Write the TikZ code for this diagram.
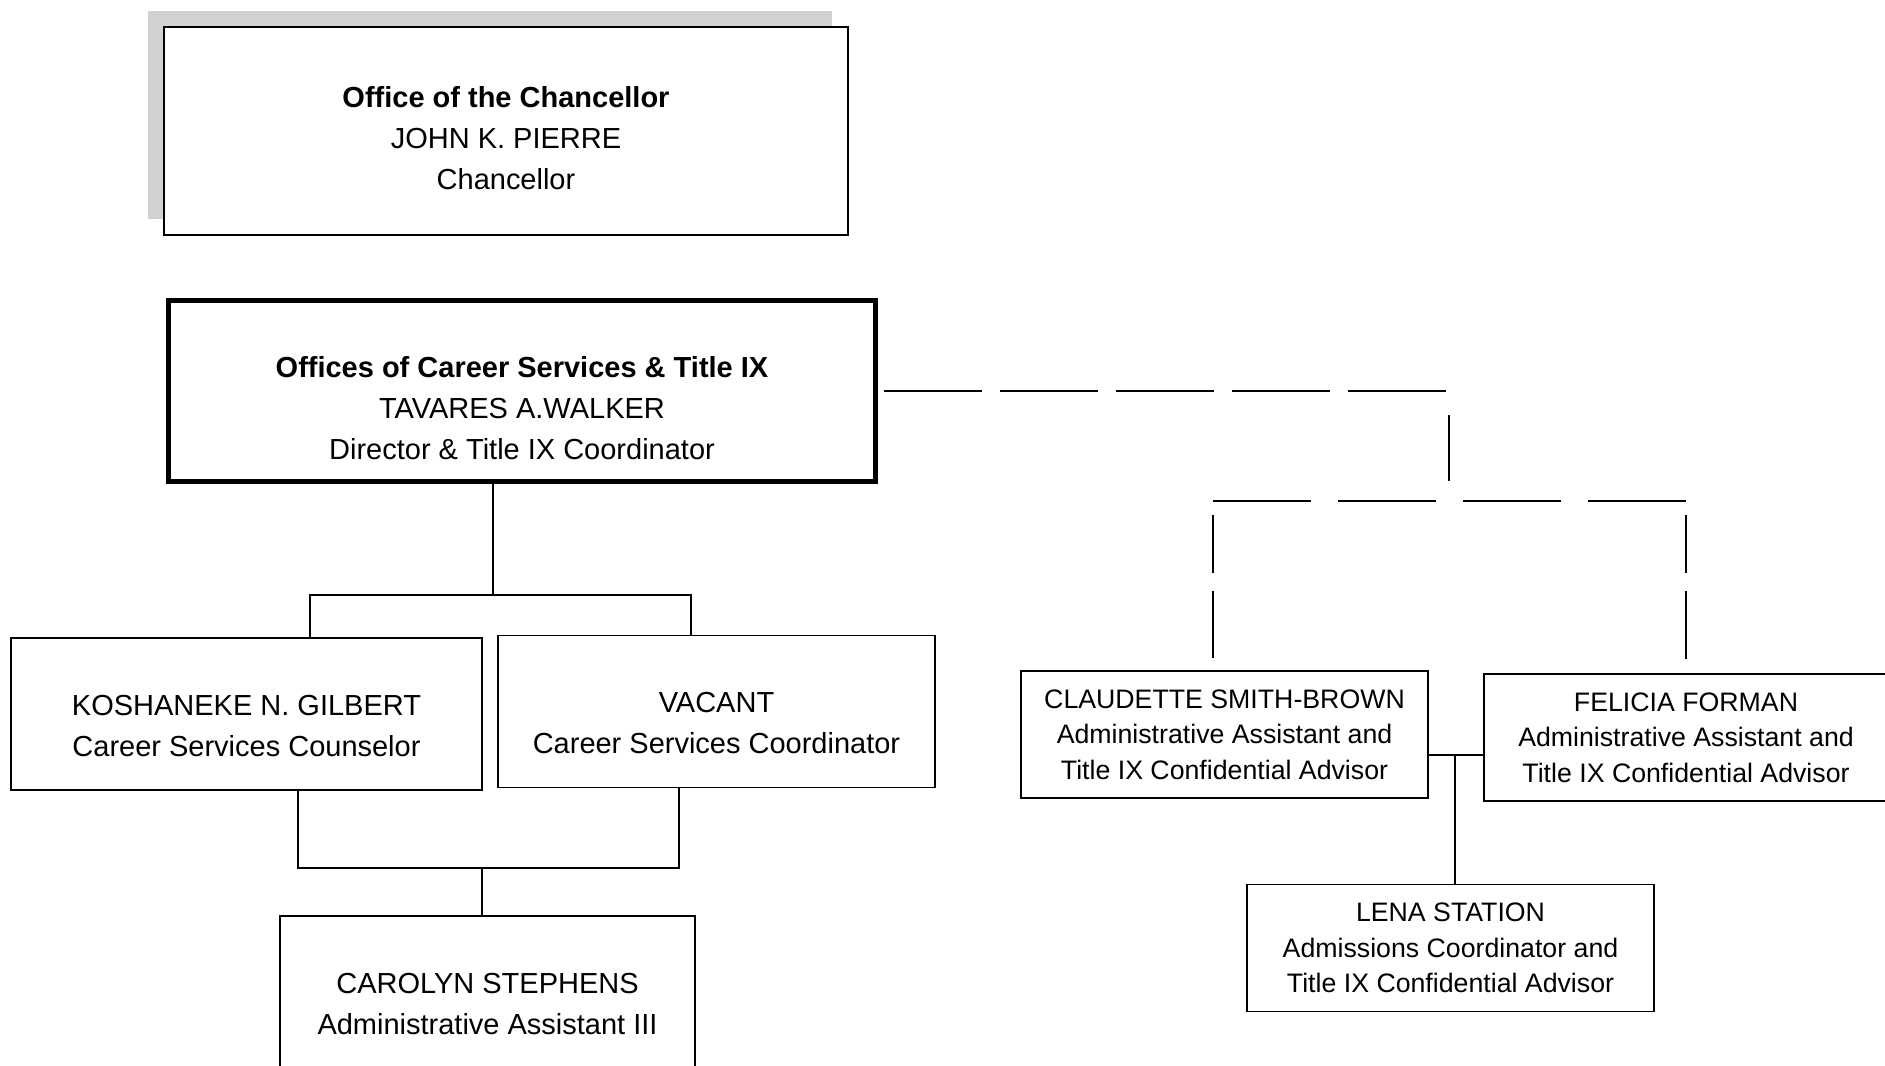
\documentclass[tikz,border=0pt]{standalone}
\usepackage{fontspec}
\setmainfont{Liberation Sans}
\usetikzlibrary{shadows}

\begin{document}
\begin{tikzpicture}

  \tikzstyle{box} = [rectangle, draw=black, fill=white, line width=1pt, align=center, font=\fontsize{16.5}{23.3}\selectfont]
  \tikzstyle{staff} = [box, minimum height=3.04cm]
  \tikzstyle{side} = [box, minimum width=8.14cm, minimum height=2.54cm, font=\fontsize{15.2}{20.3}\selectfont]

  \tikzstyle{line} = [line width=0.8pt]
  \tikzstyle{dashline} = [line width=0.8pt, dash pattern=on 55.8pt off 10.2pt]

  \useasboundingbox (0,0) rectangle (37.7,-21.3);

  \node (chancellor) [box, line width=1.6pt, minimum width=13.68cm, minimum height=4.16cm, xshift=10.12cm, yshift=-2.62cm, drop shadow={shadow xshift=-0.32cm, shadow yshift=0.32cm, fill=gray!35, opacity=1}] {\rule{0pt}{20pt}\textbf{Office of the Chancellor}\\JOHN K. PIERRE\\Chancellor};
  \node (walker) [box, line width=3pt, minimum width=14.14cm, minimum height=3.62cm, xshift=10.44cm, yshift=-7.82cm] {\rule{0pt}{31pt}\textbf{Offices of Career Services \& Title IX}\\TAVARES A.WALKER\\Director \& Title IX Coordinator};

  \node (gilbert)  [staff, minimum width=9.42cm, xshift=4.93cm, yshift=-14.28cm] {\rule{0pt}{25pt}KOSHANEKE N. GILBERT\\Career Services Counselor};
  \node (vacant)   [staff, minimum width=8.74cm, xshift=14.33cm, yshift=-14.23cm] {\rule{0pt}{25pt}VACANT\\Career Services Coordinator};
  \node (stephens) [staff, minimum width=8.30cm, xshift=9.75cm, yshift=-19.84cm] {\rule{0pt}{25pt}CAROLYN STEPHENS\\Administrative Assistant III};

  \node (claudette) [side, xshift=24.49cm, yshift=-14.69cm] {CLAUDETTE SMITH-BROWN\\Administrative Assistant and\\Title IX Confidential Advisor};
  \node (felicia)   [side, minimum width=8.08cm, xshift=33.72cm, yshift=-14.75cm] {FELICIA FORMAN\\Administrative Assistant and\\Title IX Confidential Advisor};
  \node (lena)      [side, xshift=29.01cm, yshift=-18.96cm] {LENA STATION\\Admissions Coordinator and\\Title IX Confidential Advisor};

  % career services side
  \coordinate (fork)  at (9.86,-11.9);
  \coordinate (forkL) at (6.2,-11.9);
  \coordinate (forkR) at (13.82,-11.9);
  \draw [line] (walker.south -| fork) -- (fork);
  \draw [line] (forkL |- gilbert.north) -- (forkL) -- (forkR) -- (forkR |- vacant.north);

  \coordinate (join)  at (9.64,-17.36);
  \coordinate (joinL) at (5.96,-17.36);
  \coordinate (joinR) at (13.58,-17.36);
  \draw [line] (joinL |- gilbert.south) -- (joinL) -- (joinR) -- (joinR |- vacant.south);
  \draw [line] (join) -- (join |- stephens.north);

  % title IX side
  \coordinate (split)    at (28.98,-10.02);
  \coordinate (leftdrop) at (24.26,-10.02);
  \draw [dashline, dash phase=62.6pt] (walker.east) -- (walker.east -| split);
  \draw [line, shorten <=13.7pt, shorten >=11.4pt] (walker.east -| split) -- (split);
  \draw [dashline, dash pattern=on 55.8pt off 15.4pt] (leftdrop) -- (felicia.north |- split);
  \draw [dashline, dash pattern=on 33pt off 10.2pt on 38.7pt off 11.4pt, shorten <=8pt, shorten >=6.8pt] (leftdrop) -- (leftdrop |- claudette.north);
  \draw [dashline, dash pattern=on 33pt off 10.2pt on 38.7pt off 11.4pt, shorten <=8pt, shorten >=8pt] (felicia.north |- split) -- (felicia.north);

  \coordinate (tie) at (29.1,-15.1);
  \draw [line] (claudette.east |- tie) -- (felicia.west |- tie);
  \draw [line] (tie) -- (tie |- lena.north);

\end{tikzpicture}
\end{document}
